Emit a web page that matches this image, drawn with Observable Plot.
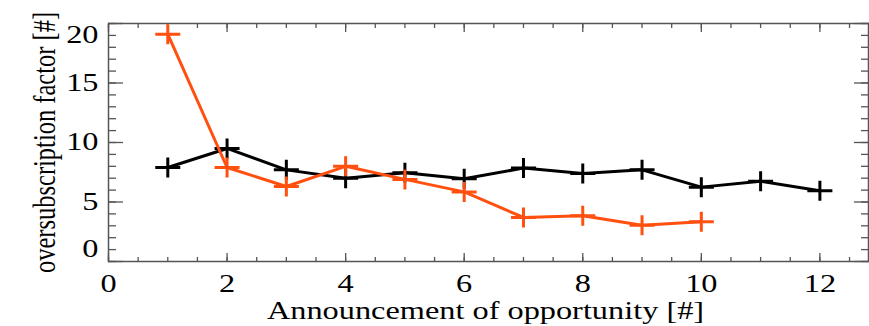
<!DOCTYPE html>
<html>
<head>
<meta charset="utf-8">
<script src="https://cdn.jsdelivr.net/npm/d3@7"></script>
<script src="https://cdn.jsdelivr.net/npm/@observablehq/plot@0.6"></script>
<style>
  html, body { margin: 0; padding: 0; background: #fff; }
  #chart { width: 869px; height: 326px; overflow: hidden; }
</style>
</head>
<body>
<div id="chart"></div>
<script>
// ---- data ----
const announcements = [1, 2, 3, 4, 5, 6, 7, 8, 9, 10, 11, 12];
const seriesBlack  = [7.9, 9.5, 7.7, 7.0, 7.45, 6.95, 7.85, 7.4, 7.7, 6.25, 6.75, 5.95];
const seriesOrange = [19.1, 7.9, 6.3, 8.0, 6.9, 5.85, 3.7, 3.85, 3.05, 3.35];
const yTickLabels = [5, 10, 15];
const yEndLabels = [0, 20];
const xTickLabels = [0, 2, 4, 6, 8, 10, 12];
const xTitle = "Announcement of opportunity [#]";
const yTitle = "oversubscription factor [#]";

const black = "#000000";
const orange = "#ff5010";
const axisColor = "#555555";
const fs = 24.5;       // font size
const stretch = 1.32;  // the reference's text is widened horizontally

const rowsBlack = announcements.map((a, i) => ({x: a, y: seriesBlack[i]}));
const rowsOrange = seriesOrange.map((v, i) => ({x: announcements[i], y: v}));

// cross marker (wider than tall, as in the reference)
const cross = {
  draw(ctx) {
    ctx.moveTo(-12.5, 0); ctx.lineTo(12.5, 0);
    ctx.moveTo(0, -10); ctx.lineTo(0, 10);
  }
};

const yMinor = d3.range(0, 21, 1);
const yMajor = [0, 5, 10, 15, 20];
const xMinor = d3.range(0, 12.81, 0.5);

const common = {label: null, stroke: axisColor, strokeWidth: 1.3, fill: "none"};
const labelOpts = {tickSize: 0, label: null, fill: "#000", fontSize: fs, fontVariant: "normal"};

const chart = Plot.plot({
  width: 869,
  height: 326,
  marginLeft: 108,
  marginRight: 1,
  marginTop: 23,
  marginBottom: 65,
  x: {domain: [0, 12.82], label: null},
  y: {domain: [0, 20], label: null},
  style: {fontFamily: "'Liberation Serif', 'Times New Roman', serif", fontSize: fs + "px", color: "#000", background: "#fff"},
  marks: [
    // inward ticks
    Plot.axisY(yMinor, {...common, anchor: "left", tickSize: -8}),
    Plot.axisY(yMajor, {...common, anchor: "left", tickSize: -15}),
    Plot.axisY(yMinor, {...common, anchor: "right", tickSize: -8}),
    Plot.axisY(yMajor, {...common, anchor: "right", tickSize: -15}),
    Plot.axisX(xMinor, {...common, anchor: "bottom", tickSize: -4}),
    Plot.axisX(xTickLabels, {...common, anchor: "bottom", tickSize: -8}),
    Plot.axisX(xMinor, {...common, anchor: "top", tickSize: -4}),
    Plot.axisX(xTickLabels, {...common, anchor: "top", tickSize: -8}),
    // tick labels
    Plot.axisY(yTickLabels, {...labelOpts, anchor: "left", tickPadding: 10}),
    Plot.axisY([yEndLabels[1]], {...labelOpts, anchor: "left", tickPadding: 10, dy: 12}),
    Plot.axisY([yEndLabels[0]], {...labelOpts, anchor: "left", tickPadding: 10, dy: -12}),
    Plot.axisX(xTickLabels, {...labelOpts, anchor: "bottom", tickPadding: 13}),
    Plot.frame({stroke: axisColor, strokeWidth: 1.5}),
    // data
    Plot.line(rowsBlack, {x: "x", y: "y", stroke: black, strokeWidth: 3}),
    Plot.dot(rowsBlack, {x: "x", y: "y", symbol: cross, stroke: black, strokeWidth: 3, fill: "none"}),
    Plot.line(rowsOrange, {x: "x", y: "y", stroke: orange, strokeWidth: 3}),
    Plot.dot(rowsOrange, {x: "x", y: "y", symbol: cross, stroke: orange, strokeWidth: 3, fill: "none"}),
    // titles
    Plot.text([xTitle], {frameAnchor: "bottom", dy: 50, dx: -3, fontSize: fs, fill: "#000", textAnchor: "middle", lineAnchor: "middle"}),
    Plot.text([yTitle], {frameAnchor: "left", dx: -64, rotate: -90, fontSize: fs, fill: "#000", textAnchor: "middle", lineAnchor: "middle"})
  ]
});

// widen the glyphs horizontally like the reference
d3.select(chart).selectAll("text").each(function() {
  const t = this.getAttribute("transform") || "";
  const rotated = /rotate\(/.test(t);
  this.setAttribute("transform", t + (rotated ? ` scale(1,${stretch})` : ` scale(${stretch},1)`));
});

document.getElementById("chart").appendChild(chart);
</script>
</body>
</html>
